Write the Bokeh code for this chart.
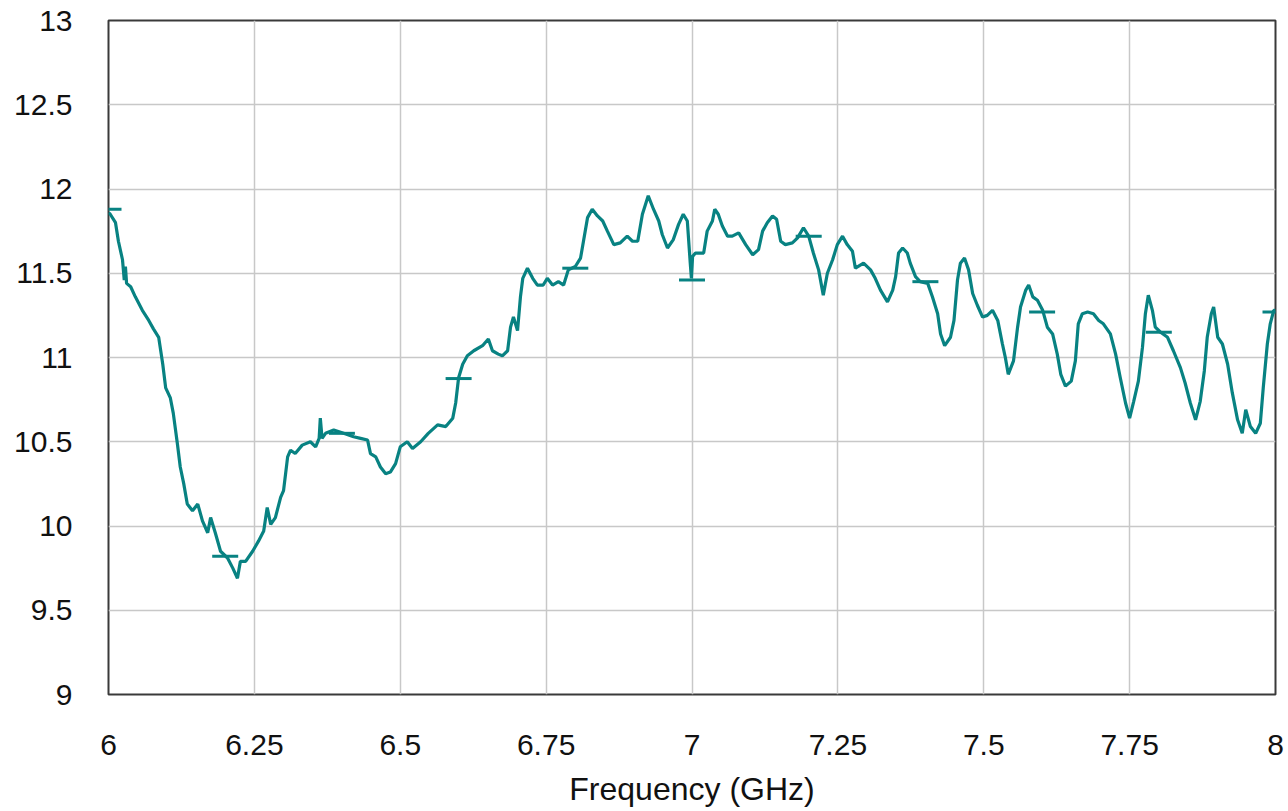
from bokeh.plotting import figure
from bokeh.models import Range1d, FixedTicker
from bokeh.embed import file_html
from bokeh.resources import INLINE

# ---- data ----
freq_ghz = [
    6.000, 6.003, 6.012, 6.017, 6.024, 6.027, 6.029, 6.031, 6.038, 6.046,
    6.058, 6.069, 6.077, 6.086, 6.093, 6.098, 6.106, 6.111, 6.118, 6.123,
    6.129, 6.135, 6.144, 6.153, 6.161, 6.170, 6.175, 6.183, 6.192, 6.204,
    6.213, 6.221, 6.226, 6.235, 6.247, 6.257, 6.266, 6.272, 6.278, 6.286,
    6.295, 6.300, 6.307, 6.312, 6.320, 6.332, 6.346, 6.355, 6.361, 6.363,
    6.366, 6.372, 6.386, 6.403, 6.420, 6.432, 6.444, 6.449, 6.458, 6.466,
    6.475, 6.483, 6.492, 6.500, 6.512, 6.521, 6.535, 6.548, 6.564, 6.578,
    6.590, 6.595, 6.600, 6.607, 6.615, 6.626, 6.641, 6.651, 6.658, 6.668,
    6.675, 6.684, 6.689, 6.694, 6.701, 6.706, 6.710, 6.718, 6.727, 6.735,
    6.745, 6.752, 6.761, 6.771, 6.780, 6.788, 6.800, 6.809, 6.814, 6.821,
    6.829, 6.838, 6.847, 6.855, 6.866, 6.877, 6.889, 6.898, 6.907, 6.915,
    6.925, 6.934, 6.943, 6.949, 6.958, 6.968, 6.977, 6.985, 6.992, 6.997,
    6.999, 7.001, 7.006, 7.020, 7.026, 7.035, 7.039, 7.045, 7.052, 7.061,
    7.069, 7.080, 7.092, 7.104, 7.114, 7.121, 7.129, 7.138, 7.145, 7.152,
    7.160, 7.172, 7.181, 7.191, 7.200, 7.208, 7.217, 7.225, 7.232, 7.241,
    7.249, 7.258, 7.266, 7.275, 7.280, 7.294, 7.306, 7.314, 7.323, 7.335,
    7.344, 7.349, 7.354, 7.361, 7.369, 7.374, 7.383, 7.391, 7.404, 7.412,
    7.421, 7.426, 7.433, 7.443, 7.449, 7.455, 7.460, 7.467, 7.474, 7.481,
    7.489, 7.498, 7.506, 7.515, 7.524, 7.532, 7.537, 7.542, 7.551, 7.558,
    7.563, 7.572, 7.577, 7.584, 7.592, 7.601, 7.609, 7.618, 7.626, 7.632,
    7.640, 7.650, 7.657, 7.662, 7.669, 7.678, 7.688, 7.697, 7.705, 7.717,
    7.726, 7.734, 7.743, 7.750, 7.757, 7.765, 7.772, 7.777, 7.782, 7.789,
    7.794, 7.803, 7.815, 7.825, 7.837, 7.845, 7.854, 7.863, 7.871, 7.878,
    7.883, 7.890, 7.894, 7.901, 7.909, 7.918, 7.926, 7.935, 7.943, 7.949,
    7.957, 7.966, 7.974, 7.979, 7.986, 7.991, 7.997, 8.000,
]

gain_value = [
    11.86, 11.85, 11.80, 11.69, 11.58, 11.46, 11.54, 11.44, 11.42, 11.36,
    11.28, 11.22, 11.17, 11.12, 10.96, 10.82, 10.76, 10.67, 10.49, 10.35,
    10.25, 10.13, 10.09, 10.13, 10.03, 9.96, 10.05, 9.96, 9.85, 9.81,
    9.75, 9.69, 9.79, 9.79, 9.85, 9.91, 9.97, 10.11, 10.01, 10.05,
    10.17, 10.21, 10.41, 10.45, 10.43, 10.48, 10.50, 10.47, 10.52, 10.64,
    10.52, 10.55, 10.57, 10.55, 10.53, 10.52, 10.51, 10.43, 10.41, 10.35,
    10.31, 10.32, 10.37, 10.47, 10.50, 10.46, 10.50, 10.55, 10.60, 10.59,
    10.64, 10.73, 10.88, 10.96, 11.01, 11.04, 11.07, 11.11, 11.04, 11.02,
    11.01, 11.04, 11.18, 11.24, 11.16, 11.36, 11.47, 11.53, 11.47, 11.43,
    11.43, 11.47, 11.43, 11.45, 11.43, 11.52, 11.54, 11.59, 11.69, 11.83,
    11.88, 11.84, 11.81, 11.75, 11.67, 11.68, 11.72, 11.69, 11.69, 11.85,
    11.96, 11.88, 11.81, 11.73, 11.65, 11.70, 11.79, 11.85, 11.81, 11.56,
    11.47, 11.60, 11.62, 11.62, 11.75, 11.81, 11.88, 11.85, 11.78, 11.72,
    11.72, 11.74, 11.67, 11.61, 11.64, 11.75, 11.80, 11.84, 11.82, 11.69,
    11.67, 11.68, 11.71, 11.77, 11.72, 11.62, 11.52, 11.37, 11.50, 11.58,
    11.67, 11.72, 11.67, 11.63, 11.53, 11.56, 11.52, 11.47, 11.40, 11.33,
    11.40, 11.48, 11.62, 11.65, 11.62, 11.56, 11.48, 11.45, 11.44, 11.36,
    11.26, 11.14, 11.07, 11.12, 11.22, 11.46, 11.56, 11.59, 11.52, 11.38,
    11.31, 11.24, 11.25, 11.28, 11.22, 11.08, 11.00, 10.90, 10.98, 11.18,
    11.30, 11.40, 11.43, 11.36, 11.34, 11.28, 11.18, 11.14, 11.02, 10.90,
    10.83, 10.86, 10.98, 11.20, 11.26, 11.27, 11.26, 11.22, 11.20, 11.14,
    11.02, 10.88, 10.73, 10.64, 10.74, 10.86, 11.06, 11.26, 11.37, 11.28,
    11.18, 11.15, 11.12, 11.04, 10.94, 10.85, 10.73, 10.63, 10.74, 10.92,
    11.12, 11.26, 11.30, 11.12, 11.08, 10.96, 10.79, 10.63, 10.55, 10.69,
    10.59, 10.55, 10.61, 10.82, 11.08, 11.20, 11.28, 11.28,
]

# short horizontal segment marks seen on the trace every 0.2 GHz
mark_freq = [6.0, 6.2, 6.4, 6.6, 6.8, 7.0, 7.2, 7.4, 7.6, 7.8, 8.0]
mark_value = [11.88, 9.82, 10.55, 10.875, 11.53, 11.46, 11.72, 11.45, 11.27, 11.15, 11.27]

x_ticks = [6, 6.25, 6.5, 6.75, 7, 7.25, 7.5, 7.75, 8]
x_tick_labels = ["6", "6.25", "6.5", "6.75", "7", "7.25", "7.5", "7.75", "8"]
y_ticks = [9, 9.5, 10, 10.5, 11, 11.5, 12, 12.5, 13]
y_tick_labels = ["9", "9.5", "10", "10.5", "11", "11.5", "12", "12.5", "13"]

x_title = "Frequency (GHz)"

assert len(freq_ghz) == len(gain_value)

TEAL = "#088282"
FONT = "Liberation Sans"

p = figure(
    width=1288, height=811,
    x_range=Range1d(6, 8), y_range=Range1d(9, 13),
    output_backend="svg", toolbar_location=None,
    min_border_left=108, min_border_right=13,
    min_border_top=20, min_border_bottom=117,
)

p.line(freq_ghz, gain_value, line_color=TEAL, line_width=3.2)
p.scatter(mark_freq, mark_value, marker="dash", size=26,
          line_color=TEAL, line_width=3, fill_color=TEAL)

p.xaxis.ticker = FixedTicker(ticks=x_ticks)
p.yaxis.ticker = FixedTicker(ticks=y_ticks)
p.xaxis.major_label_overrides = {t: l for t, l in zip(x_ticks, x_tick_labels)}
p.yaxis.major_label_overrides = {t: l for t, l in zip(y_ticks, y_tick_labels)}

for ax in (p.xaxis, p.yaxis):
    ax.axis_line_color = None
    ax.major_tick_line_color = None
    ax.minor_tick_line_color = None
    ax.major_label_text_font = FONT
    ax.major_label_text_font_size = "30px"
    ax.major_label_text_color = "#111111"

p.xaxis.major_label_standoff = 34
p.yaxis.major_label_standoff = 30
p.xaxis.axis_label = x_title
p.xaxis.axis_label_text_font = FONT
p.xaxis.axis_label_text_font_size = "32px"
p.xaxis.axis_label_text_font_style = "normal"
p.xaxis.axis_label_text_color = "#111111"
p.xaxis.axis_label_standoff = 13

p.grid.grid_line_color = "#c8c8c8"
p.grid.grid_line_width = 1.5
p.outline_line_color = "#3a3a3a"
p.outline_line_width = 2
p.background_fill_color = "white"
p.border_fill_color = "white"

open("out.html", "w").write(file_html(p, INLINE))
